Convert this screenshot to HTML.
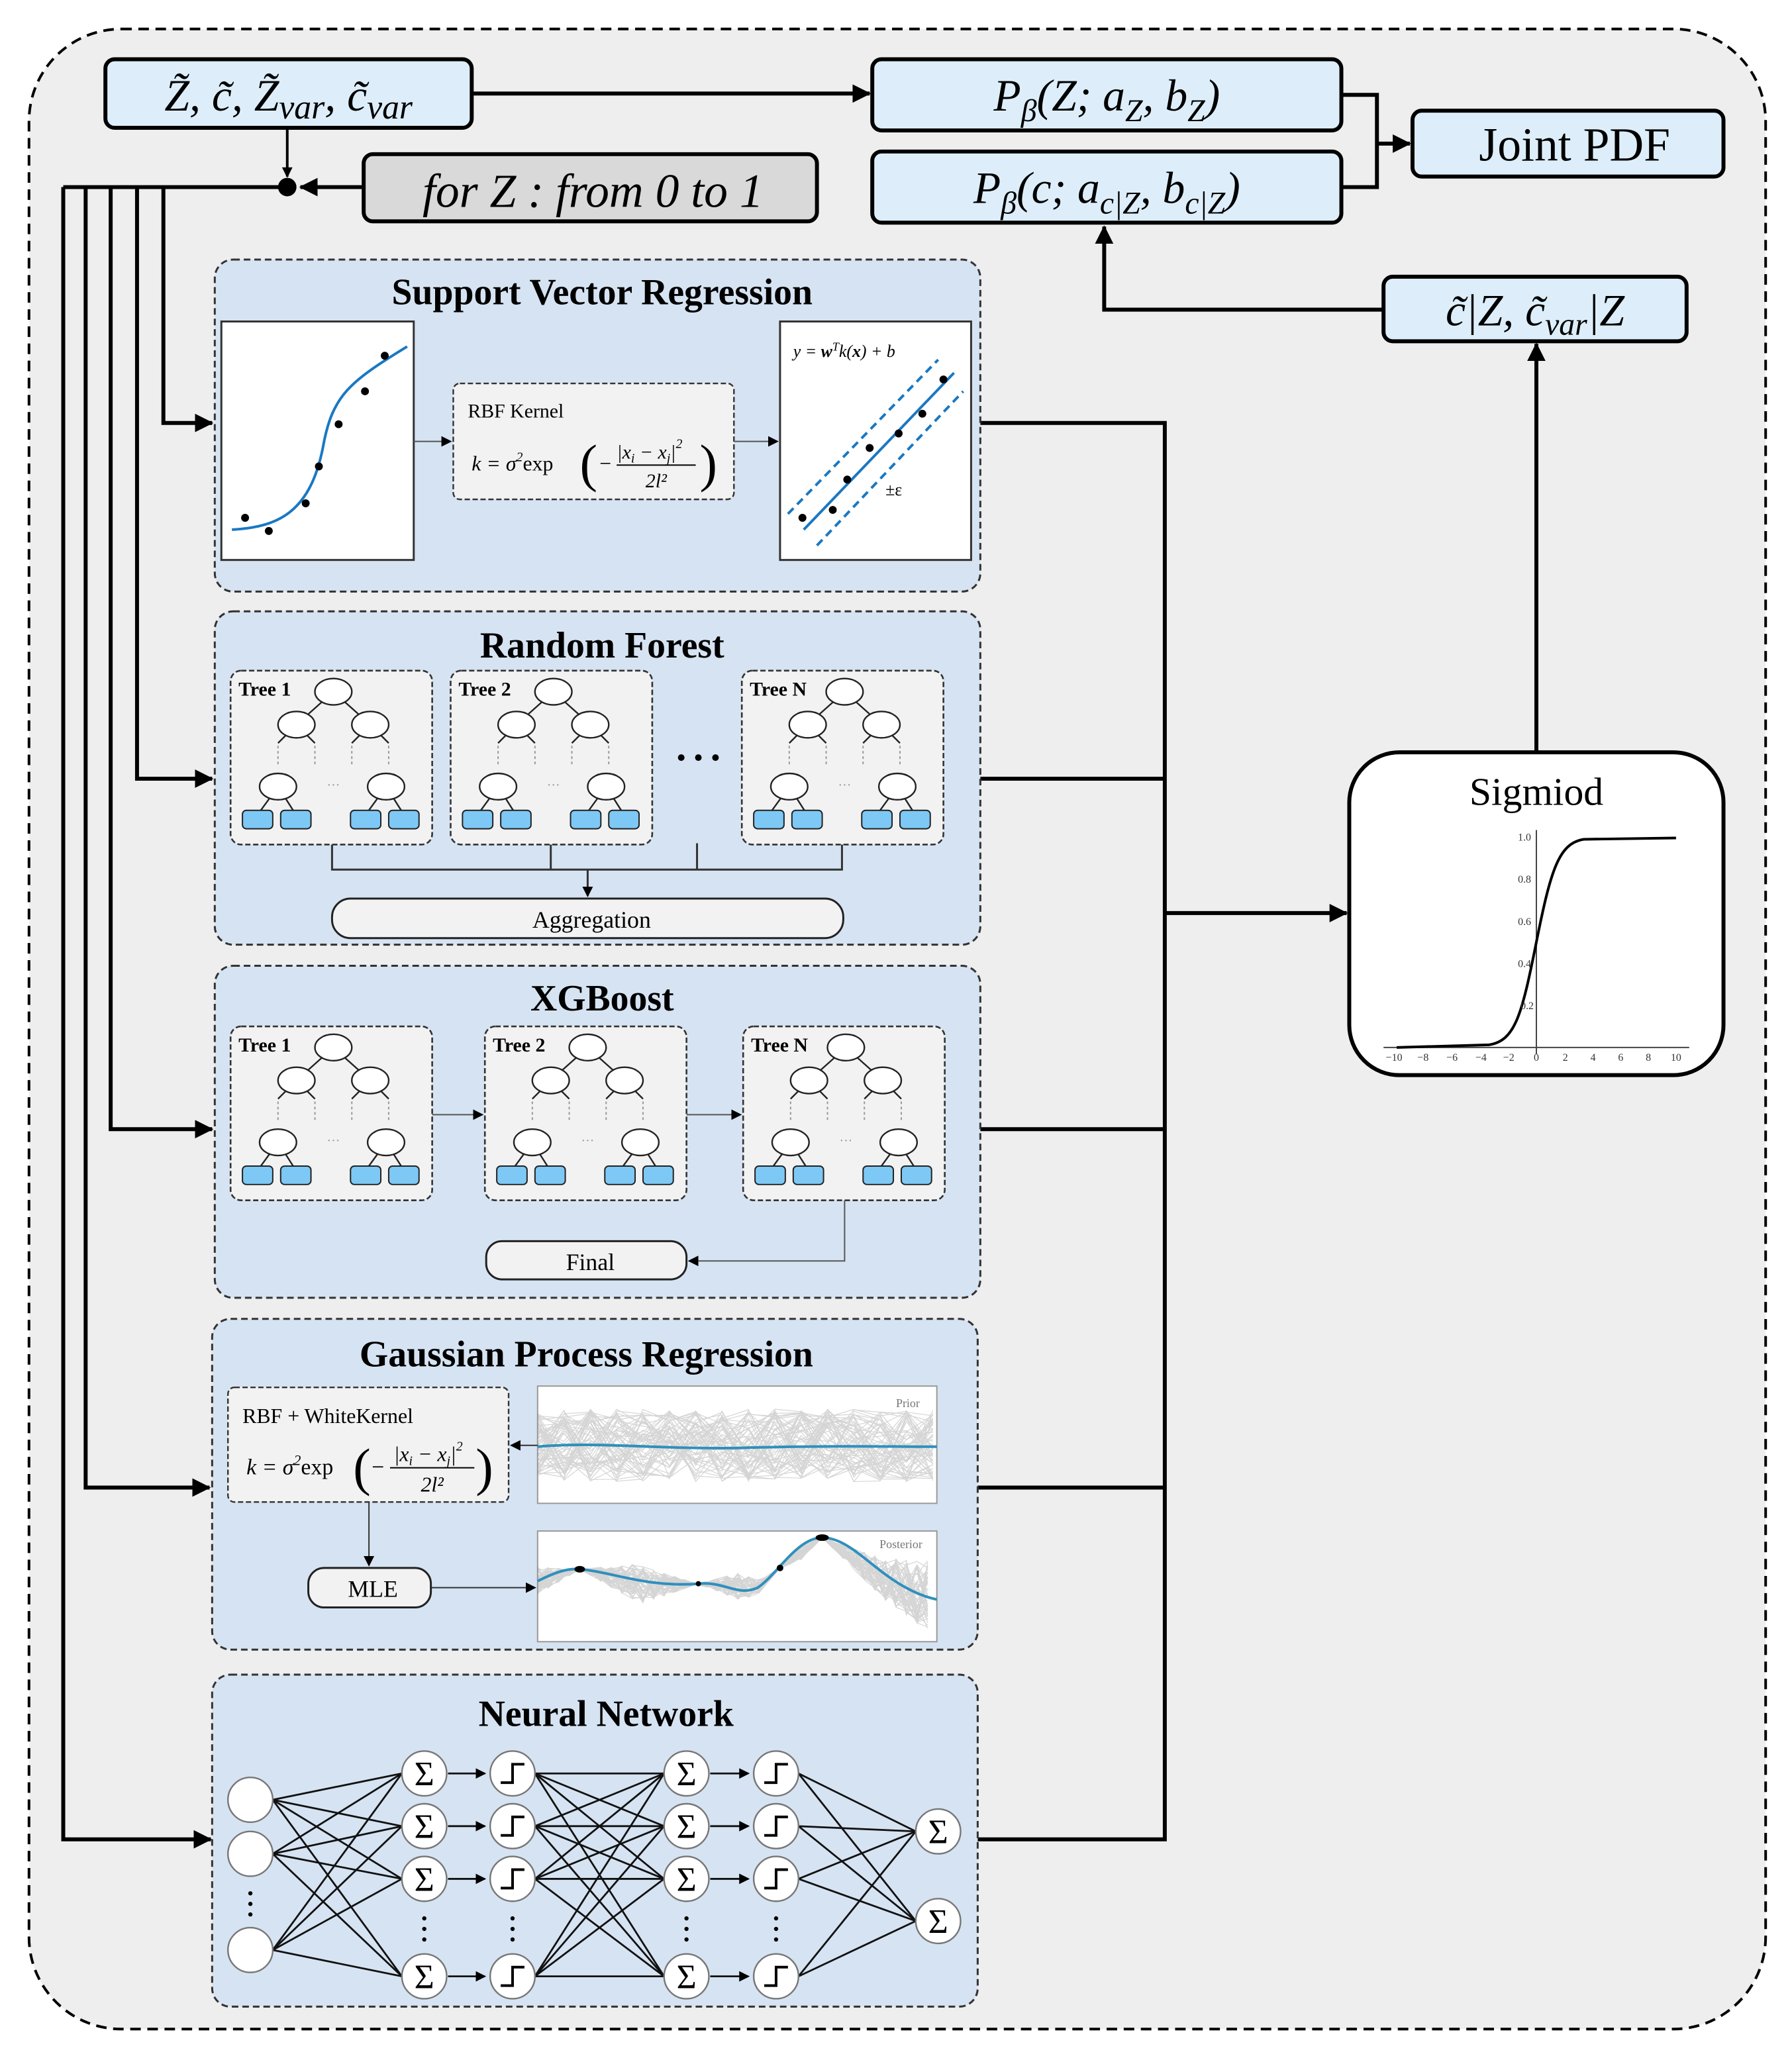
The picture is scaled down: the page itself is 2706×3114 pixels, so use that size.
<!DOCTYPE html>
<html><head><meta charset="utf-8"><style>
html,body{margin:0;padding:0;background:#fff;width:2706px;height:3114px;overflow:hidden}
svg{display:block}
text{font-family:"Liberation Serif",serif}
</style></head><body>
<svg id="s" width="2706" height="3114" viewBox="0 0 1360 1565" preserveAspectRatio="none" xmlns="http://www.w3.org/2000/svg">
<defs>
<marker id="a" markerWidth="8" markerHeight="8" refX="7" refY="4" orient="auto" markerUnits="userSpaceOnUse"><path d="M0,0L8,4L0,8z" fill="#000"/></marker>
<marker id="b" markerWidth="14" markerHeight="14" refX="13" refY="7" orient="auto" markerUnits="userSpaceOnUse"><path d="M0,0L14,7L0,14z" fill="#000"/></marker>
</defs>
<rect x="22" y="22" width="1318" height="1518" rx="70" fill="#eeeeee" stroke="#000" stroke-width="2" stroke-dasharray="8,5"/>

<!-- top boxes -->
<rect x="80" y="45" width="278" height="52" rx="7" fill="#ddeefa" stroke="#000" stroke-width="3"/>
<text x="219" y="84" font-size="34" font-style="italic" text-anchor="middle">Z̃, c̃, Z̃<tspan font-size="26" dy="6">var</tspan><tspan dy="-6">, c̃</tspan><tspan font-size="26" dy="6">var</tspan></text>
<rect x="662" y="45" width="356" height="54" rx="7" fill="#ddeefa" stroke="#000" stroke-width="3"/>
<text x="840" y="84" font-size="34" font-style="italic" text-anchor="middle">P<tspan font-size="24" dy="8">β</tspan><tspan dy="-8">(Z; a</tspan><tspan font-size="24" dy="8">Z</tspan><tspan dy="-8">, b</tspan><tspan font-size="24" dy="8">Z</tspan><tspan dy="-8">)</tspan></text>
<rect x="662" y="115" width="356" height="54" rx="7" fill="#ddeefa" stroke="#000" stroke-width="3"/>
<text x="840" y="154" font-size="34" font-style="italic" text-anchor="middle">P<tspan font-size="24" dy="8">β</tspan><tspan dy="-8">(c; a</tspan><tspan font-size="24" dy="8">c|Z</tspan><tspan dy="-8">, b</tspan><tspan font-size="24" dy="8">c|Z</tspan><tspan dy="-8">)</tspan></text>
<rect x="1072" y="84" width="236" height="50" rx="7" fill="#ddeefa" stroke="#000" stroke-width="3"/>
<text x="1195" y="122" font-size="36" text-anchor="middle">Joint PDF</text>
<rect x="276" y="117" width="344" height="51" rx="7" fill="#d9d9d9" stroke="#000" stroke-width="3"/>
<text x="450" y="157" font-size="36" font-style="italic" text-anchor="middle">for Z : from 0 to 1</text>
<rect x="1050" y="210" width="230" height="49" rx="7" fill="#ddeefa" stroke="#000" stroke-width="3"/>
<text x="1165" y="247" font-size="34" font-style="italic" text-anchor="middle">c̃|Z, c̃<tspan font-size="24" dy="7">var</tspan><tspan dy="-7">|Z</tspan></text>

<g stroke="#000" stroke-width="3" fill="none">
<line x1="358" y1="71" x2="660" y2="71" marker-end="url(#b)"/>
<polyline points="1018,72 1045,72 1045,142 1018,142"/>
<line x1="1045" y1="109" x2="1070" y2="109" marker-end="url(#b)"/>
<line x1="218" y1="97" x2="218" y2="134" stroke-width="2" marker-end="url(#a)"/>
<line x1="276" y1="142" x2="228" y2="142" marker-end="url(#b)"/>
<polyline points="1050,235 838,235 838,172" marker-end="url(#b)"/>
<line x1="1166" y1="571" x2="1166" y2="261" marker-end="url(#b)"/>
<line x1="218" y1="142" x2="48" y2="142"/>
<polyline points="48,142 48,1396 160,1396" marker-end="url(#b)"/>
<polyline points="65,142 65,1129 159,1129" marker-end="url(#b)"/>
<polyline points="84,142 84,857 161,857" marker-end="url(#b)"/>
<polyline points="104,142 104,591 161,591" marker-end="url(#b)"/>
<polyline points="124,142 124,321 161,321" marker-end="url(#b)"/>
<polyline points="744,321 884,321 884,1396 742,1396"/>
<line x1="744" y1="591" x2="884" y2="591"/>
<line x1="744" y1="857" x2="884" y2="857"/>
<line x1="742" y1="1129" x2="884" y2="1129"/>
<line x1="884" y1="693" x2="1022" y2="693" marker-end="url(#b)"/>
</g>
<circle cx="218" cy="142" r="7" fill="#000"/>

<!-- Sigmoid -->
<rect x="1024" y="571" width="284" height="245" rx="38" fill="#fff" stroke="#000" stroke-width="3"/>
<text x="1166" y="611" font-size="30" text-anchor="middle">Sigmiod</text>
<g stroke="#444" stroke-width="1" fill="none">
<line x1="1050" y1="795" x2="1282" y2="795"/>
<line x1="1166" y1="630" x2="1166" y2="800"/>
</g>
<path d="M1060,795 L1130,793 C1150,790 1155,770 1166,715 C1177,660 1183,640 1202,637 L1272,636" stroke="#000" stroke-width="2" fill="none"/>
<g font-size="8" fill="#333" text-anchor="middle">
<text x="1058" y="805">−10</text><text x="1080" y="805">−8</text><text x="1102" y="805">−6</text><text x="1124" y="805">−4</text><text x="1145" y="805">−2</text><text x="1166" y="805">0</text><text x="1188" y="805">2</text><text x="1209" y="805">4</text><text x="1230" y="805">6</text><text x="1251" y="805">8</text><text x="1272" y="805">10</text>
<text x="1157" y="638">1.0</text><text x="1157" y="670">0.8</text><text x="1157" y="702">0.6</text><text x="1157" y="734">0.4</text><text x="1159" y="766">0.2</text>
</g>

<!-- panels -->
<g fill="#d6e3f2" stroke="#333" stroke-width="1.5" stroke-dasharray="5,3">
<rect x="163" y="197" width="581" height="252" rx="14"/>
<rect x="163" y="464" width="581" height="253" rx="14"/>
<rect x="163" y="733" width="581" height="252" rx="14"/>
<rect x="161" y="1001" width="581" height="251" rx="14"/>
<rect x="161" y="1271" width="581" height="252" rx="14"/>
</g>
<g font-size="28" font-weight="bold" text-anchor="middle">
<text x="457" y="231">Support Vector Regression</text>
<text x="457" y="499">Random Forest</text>
<text x="457" y="767">XGBoost</text>
<text x="445" y="1037">Gaussian Process Regression</text>
<text x="460" y="1310">Neural Network</text>
</g>

<!-- SVR -->
<rect x="168" y="244" width="146" height="181" fill="#fff" stroke="#333" stroke-width="1.5"/>
<path d="M176,402 C210,400 235,390 245,340 C252,300 265,290 309,263" stroke="#1a78c2" stroke-width="2" fill="none"/>
<g fill="#000"><circle cx="186" cy="393" r="3"/><circle cx="204" cy="403" r="3"/><circle cx="232" cy="382" r="3"/><circle cx="242" cy="354" r="3"/><circle cx="257" cy="322" r="3"/><circle cx="277" cy="297" r="3"/><circle cx="292" cy="270" r="3"/></g>
<rect x="344" y="291" width="213" height="88" rx="5" fill="#f2f2f2" stroke="#333" stroke-width="1.2" stroke-dasharray="4,2"/>
<text x="355" y="317" font-size="15">RBF Kernel</text>
<text x="358" y="357" font-size="16" font-style="italic">k = σ<tspan font-size="10" dy="-7">2</tspan><tspan dy="7" font-style="normal">exp</tspan></text>
<text x="440" y="365" font-size="40" font-weight="100">(</text>
<text x="455" y="357" font-size="16">−</text>
<text x="493" y="348" font-size="15" font-style="italic" text-anchor="middle">|x<tspan font-size="10" dy="3">i</tspan><tspan dy="-3"> − x</tspan><tspan font-size="10" dy="3">j</tspan><tspan dy="-3">|</tspan><tspan font-size="10" dy="-8">2</tspan></text>
<line x1="468" y1="353" x2="528" y2="353" stroke="#000" stroke-width="1"/>
<text x="498" y="370" font-size="15" font-style="italic" text-anchor="middle">2l²</text>
<text x="531" y="365" font-size="40" font-weight="100">)</text>
<g stroke="#555" stroke-width="1" fill="none">
<line x1="314" y1="335" x2="342" y2="335" marker-end="url(#a)"/>
<line x1="557" y1="335" x2="590" y2="335" marker-end="url(#a)"/>
</g>
<rect x="592" y="244" width="145" height="181" fill="#fff" stroke="#333" stroke-width="1.5"/>
<text x="602" y="271" font-size="13" font-style="italic">y = <tspan font-weight="bold">w</tspan><tspan font-size="9" dy="-5">T</tspan><tspan dy="5">k(<tspan font-weight="bold">x</tspan>) + b</tspan></text>
<line x1="610" y1="402" x2="724" y2="283" stroke="#1a78c2" stroke-width="2"/>
<line x1="598" y1="390" x2="712" y2="273" stroke="#1a78c2" stroke-width="2" stroke-dasharray="6,4"/>
<line x1="620" y1="414" x2="731" y2="297" stroke="#1a78c2" stroke-width="2" stroke-dasharray="6,4"/>
<g fill="#000"><circle cx="609" cy="393" r="3"/><circle cx="632" cy="387" r="3"/><circle cx="643" cy="364" r="3"/><circle cx="660" cy="340" r="3"/><circle cx="682" cy="329" r="3"/><circle cx="700" cy="314" r="3"/><circle cx="716" cy="288" r="3"/></g>
<text x="672" y="376" font-size="13">±ε</text>

<g id="trees"></g>

<!-- RF connectors -->
<g stroke="#333" stroke-width="1.5" fill="none">
<polyline points="252,641 252,660 639,660 639,641"/>
<line x1="418" y1="641" x2="418" y2="660"/>
<line x1="529" y1="640" x2="529" y2="660"/>
<line x1="446" y1="660" x2="446" y2="680" marker-end="url(#a)"/>
</g>
<g fill="#000"><circle cx="517" cy="575" r="2.5"/><circle cx="530" cy="575" r="2.5"/><circle cx="543" cy="575" r="2.5"/></g>
<rect x="252" y="682" width="388" height="30" rx="14" fill="#f2f2f2" stroke="#222" stroke-width="1.5"/>
<text x="449" y="704" font-size="18" text-anchor="middle">Aggregation</text>

<!-- XGB connectors -->
<g stroke="#555" stroke-width="1" fill="none">
<line x1="328" y1="846" x2="366" y2="846" marker-end="url(#a)"/>
<line x1="521" y1="846" x2="562" y2="846" marker-end="url(#a)"/>
<polyline points="641,911 641,957 523,957" marker-end="url(#a)"/>
</g>
<rect x="369" y="942" width="152" height="29" rx="12" fill="#f2f2f2" stroke="#222" stroke-width="1.5"/>
<text x="448" y="964" font-size="18" text-anchor="middle">Final</text>

<!-- GPR -->
<rect x="173" y="1053" width="213" height="87" rx="5" fill="#f2f2f2" stroke="#333" stroke-width="1.2" stroke-dasharray="4,2"/>
<text x="184" y="1080" font-size="16">RBF + WhiteKernel</text>
<text x="187" y="1119" font-size="17" font-style="italic">k = σ<tspan font-size="11" dy="-7">2</tspan><tspan dy="7" font-style="normal">exp</tspan></text>
<text x="268" y="1127" font-size="40" font-weight="100">(</text>
<text x="282" y="1119" font-size="17">−</text>
<text x="325" y="1109" font-size="16" font-style="italic" text-anchor="middle">|x<tspan font-size="10" dy="3">i</tspan><tspan dy="-3"> − x</tspan><tspan font-size="10" dy="3">j</tspan><tspan dy="-3">|</tspan><tspan font-size="10" dy="-8">2</tspan></text>
<line x1="296" y1="1114" x2="360" y2="1114" stroke="#000" stroke-width="1"/>
<text x="328" y="1132" font-size="16" font-style="italic" text-anchor="middle">2l²</text>
<text x="361" y="1127" font-size="40" font-weight="100">)</text>
<rect x="408" y="1052" width="303" height="89" fill="#fff" stroke="#999" stroke-width="1"/>
<g id="prior" stroke="#888" stroke-width="0.6" fill="none" opacity="0.35"></g>
<path d="M408,1098 C450,1094 500,1100 560,1099 C620,1097 680,1098 711,1098" stroke="#2f8fbd" stroke-width="2" fill="none"/>
<text x="698" y="1068" font-size="9" fill="#777" font-family="Liberation Sans" text-anchor="end">Prior</text>
<rect x="408" y="1162" width="303" height="84" fill="#fff" stroke="#999" stroke-width="1"/>
<g id="post" stroke="#888" stroke-width="0.6" fill="none" opacity="0.35"></g>
<path id="pm" d="M408,1200 C420,1194 430,1190 440,1191 C465,1193 490,1205 530,1202 C550,1200 560,1212 575,1205 C590,1195 605,1167 624,1167 C650,1167 670,1205 711,1214" stroke="#2f8fbd" stroke-width="2" fill="none"/>
<g fill="#000"><ellipse cx="440" cy="1191" rx="4" ry="2.5"/><circle cx="530" cy="1202" r="2"/><circle cx="592" cy="1190" r="2.5"/><ellipse cx="624" cy="1167" rx="5" ry="2.5"/></g>
<text x="700" y="1175" font-size="9" fill="#777" font-family="Liberation Sans" text-anchor="end">Posterior</text>
<g stroke="#333" stroke-width="1" fill="none">
<line x1="408" y1="1097" x2="388" y2="1097" marker-end="url(#a)"/>
<line x1="280" y1="1140" x2="280" y2="1188" marker-end="url(#a)"/>
<line x1="327" y1="1205" x2="406" y2="1205" marker-end="url(#a)"/>
</g>
<rect x="234" y="1190" width="93" height="30" rx="12" fill="#f2f2f2" stroke="#222" stroke-width="1.5"/>
<text x="283" y="1212" font-size="18" text-anchor="middle">MLE</text>

<g id="nn"></g>
</svg>
<script>
var NS="http://www.w3.org/2000/svg";
function el(p,t,a,txt){var e=document.createElementNS(NS,t);for(var k in a)e.setAttribute(k,a[k]);if(txt!==undefined)e.textContent=txt;p.appendChild(e);return e;}
var T=document.getElementById("trees");
function tree(x,y,label){
 el(T,"rect",{x:x,y:y,width:153,height:132,rx:8,fill:"#f2f2f2",stroke:"#333","stroke-width":1.3,"stroke-dasharray":"4,2"});
 el(T,"text",{x:x+6,y:y+19,"font-size":15,"font-weight":"bold"},label);
 var L=[[78,16,50,41],[78,16,106,41],[50,41,36,55],[50,41,64,55],[106,41,92,55],[106,41,120,55],[36,88,20,110],[36,88,50,110],[118,88,102,110],[118,88,132,110]];
 L.forEach(function(l){el(T,"line",{x1:x+l[0],y1:y+l[1],x2:x+l[2],y2:y+l[3],stroke:"#222","stroke-width":1.2});});
 [36,64,92,120].forEach(function(d){el(T,"line",{x1:x+d,y1:y+57,x2:x+d,y2:y+72,stroke:"#999","stroke-width":1,"stroke-dasharray":"2,2"});});
 el(T,"text",{x:x+78,y:y+90,"font-size":10,fill:"#999","text-anchor":"middle"},"···");
 [[78,16],[50,41],[106,41],[36,88],[118,88]].forEach(function(c){el(T,"ellipse",{cx:x+c[0],cy:y+c[1],rx:14,ry:10,fill:"#fff",stroke:"#222","stroke-width":1.2});});
 [9,38,91,120].forEach(function(lx){el(T,"rect",{x:x+lx,y:y+106,width:23,height:14,rx:3,fill:"#7ec8f5",stroke:"#222","stroke-width":1});});
}
tree(175,509,"Tree  1");tree(342,509,"Tree  2");tree(563,509,"Tree  N");
tree(175,779,"Tree  1");tree(368,779,"Tree  2");tree(564,779,"Tree  N");
// GP samples
var seed=3;function r(){seed=(seed*9301+49297)%233280;return seed/233280;}
var P=document.getElementById("prior");
for(var i=0;i<60;i++){var d="M408,"+(1097+(r()-0.5)*50);for(var x=428;x<=711;x+=20){d+=" L"+x+","+(1097+(r()-0.5)*55);}el(P,"path",{d:d});}
var Q=document.getElementById("post");
var pm=[[408,1200],[440,1191],[490,1203],[530,1202],[575,1205],[592,1190],[624,1167],[670,1198],[711,1214]];
for(var i=0;i<50;i++){var d="";for(var x=408;x<=711;x+=8){var j=0;while(j<pm.length-2&&pm[j+1][0]<x)j++;var a=pm[j],b=pm[j+1];var t=(x-a[0])/(b[0]-a[0]);var ym=a[1]+(b[1]-a[1])*t;var amp=Math.min(Math.abs(x-440),Math.abs(x-530),Math.abs(x-592),Math.abs(x-624))/3;if(amp>30)amp=30;d+=(d?" L":"M")+x+","+(ym+(r()-0.5)*2*amp);}el(Q,"path",{d:d});}
// NN
var N=document.getElementById("nn");
var inp=[1366,1407,1480],hid=[1346,1386,1426,1500],out=[1390,1458];
function ln(x1,y1,x2,y2,m){var a={x1:x1,y1:y1,x2:x2,y2:y2,stroke:"#111","stroke-width":1.4};if(m)a["marker-end"]="url(#a)";el(N,"line",a);}
inp.forEach(function(a){hid.forEach(function(b){ln(207,a,305,b);});});
hid.forEach(function(a){hid.forEach(function(b){ln(406,a,504,b);});});
hid.forEach(function(a){out.forEach(function(b){ln(606,a,695,b);});});
hid.forEach(function(y){ln(340,y,368,y,1);ln(539,y,568,y,1);});
inp.forEach(function(y){el(N,"circle",{cx:190,cy:y,r:17,fill:"#fff",stroke:"#777","stroke-width":1.2});});
function sig(x,y){el(N,"circle",{cx:x,cy:y,r:17,fill:"#fff",stroke:"#777","stroke-width":1.2});el(N,"text",{x:x,y:y+9,"font-size":26,"text-anchor":"middle"},"Σ");}
function stp(x,y){el(N,"circle",{cx:x,cy:y,r:17,fill:"#fff",stroke:"#777","stroke-width":1.2});el(N,"path",{d:"M"+(x-9)+","+(y+7)+" L"+x+","+(y+7)+" L"+x+","+(y-7)+" L"+(x+9)+","+(y-7),stroke:"#000","stroke-width":2,fill:"none"});}
hid.forEach(function(y){sig(322,y);stp(389,y);sig(521,y);stp(589,y);});
out.forEach(function(y){sig(712,y);});
[190,322,389,521,589].forEach(function(x){var yy=x==190?1437:1456;for(var k=0;k<3;k++)el(N,"circle",{cx:x,cy:yy+k*8,r:1.6,fill:"#000"});});
</script>
</body></html>
